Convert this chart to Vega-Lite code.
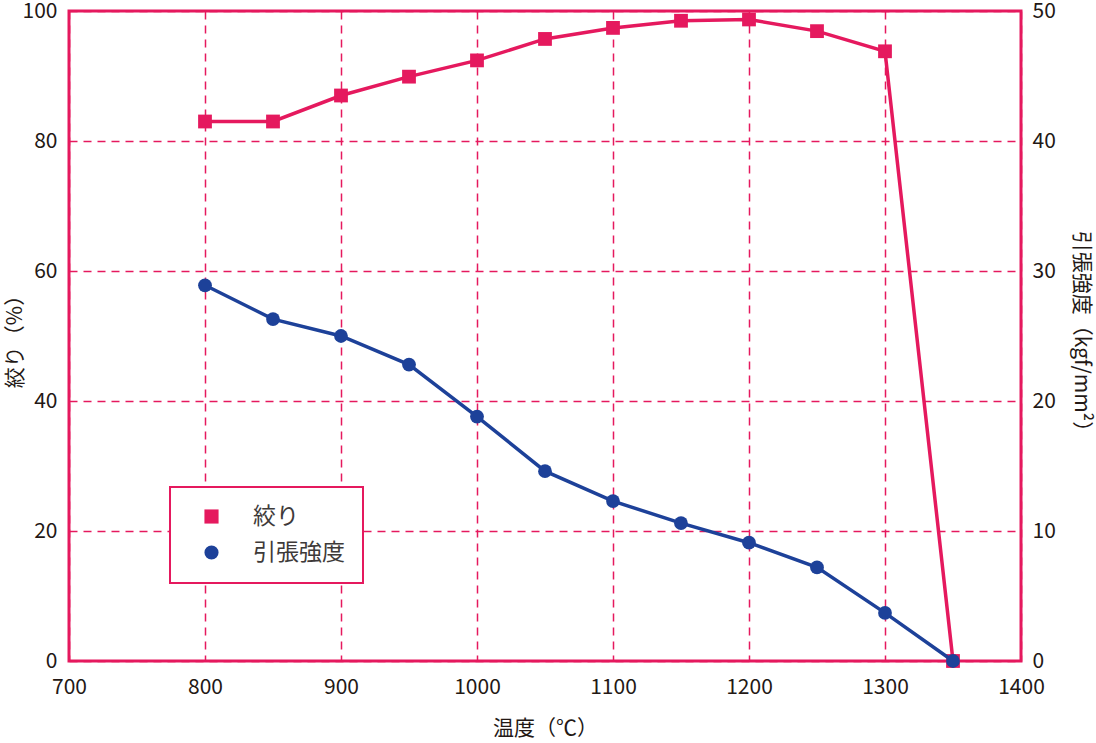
{
  "$schema": "https://vega.github.io/schema/vega-lite/v6.json",
  "width": 952,
  "height": 650,
  "autosize": {"type": "none"},
  "padding": {"left": 69, "top": 11, "right": 75, "bottom": 82},
  "config": {
    "font": "Noto Sans CJK JP",
    "view": {"stroke": "#e5195e", "strokeWidth": 3},
    "axis": {
      "domain": false,
      "ticks": false,
      "labelFontSize": 21,
      "labelColor": "#231815",
      "titleFontSize": 21,
      "titleFontWeight": "normal",
      "titleColor": "#231815",
      "gridColor": "#e5195e",
      "gridDash": [8, 6],
      "gridWidth": 1.5,
      "gridOpacity": 1
    }
  },
  "data": {
    "values": [
      {"temp": 800, "shibori": 83.0, "kyoudo": 28.9},
      {"temp": 850, "shibori": 83.0, "kyoudo": 26.3},
      {"temp": 900, "shibori": 87.0, "kyoudo": 25.0},
      {"temp": 950, "shibori": 89.9, "kyoudo": 22.8},
      {"temp": 1000, "shibori": 92.4, "kyoudo": 18.8},
      {"temp": 1050, "shibori": 95.7, "kyoudo": 14.6},
      {"temp": 1100, "shibori": 97.4, "kyoudo": 12.3},
      {"temp": 1150, "shibori": 98.5, "kyoudo": 10.6},
      {"temp": 1200, "shibori": 98.7, "kyoudo": 9.1},
      {"temp": 1250, "shibori": 96.9, "kyoudo": 7.2},
      {"temp": 1300, "shibori": 93.8, "kyoudo": 3.7},
      {"temp": 1350, "shibori": 0, "kyoudo": 0}
    ]
  },
  "encoding": {
    "x": {
      "field": "temp",
      "type": "quantitative",
      "scale": {"domain": [700, 1400], "nice": false, "zero": false},
      "axis": {
        "values": [700, 800, 900, 1000, 1100, 1200, 1300, 1400],
        "format": "d",
        "title": "温度（℃）",
        "labelPadding": 15,
        "labelFlush": false,
        "titleY": 67,
        "titleBaseline": "middle"
      }
    }
  },
  "layer": [
    {
      "encoding": {
        "y": {
          "field": "shibori",
          "type": "quantitative",
          "scale": {"domain": [0, 100], "nice": false},
          "axis": {
            "orient": "left",
            "values": [0, 20, 40, 60, 80, 100],
            "title": "絞り（%）",
            "labelPadding": 12,
            "titleX": -54,
            "titleBaseline": "middle"
          }
        }
      },
      "layer": [
        {
          "mark": {"type": "line", "color": "#e5195e", "strokeWidth": 3.5}
        },
        {
          "mark": {"type": "point", "filled": true, "size": 190, "opacity": 1},
          "encoding": {
            "color": {
              "datum": "絞り",
              "type": "nominal",
              "scale": {"domain": ["絞り", "引張強度"], "range": ["#e5195e", "#1d4199"]},
              "legend": {
                "orient": "none",
                "legendX": 101,
                "legendY": 476,
                "title": null,
                "strokeColor": "#e5195e",
                "fillColor": "white",
                "padding": 18,
                "labelFontSize": 23,
                "labelColor": "#3e3a39",
                "symbolSize": 200,
                "symbolOpacity": 1,
                "symbolStrokeWidth": 0,
                "symbolOffset": 12,
                "labelOffset": 30,
                "rowPadding": 12,
                "encode": {"legend": {"update": {"strokeWidth": {"value": 2}}}}
              }
            },
            "shape": {
              "datum": "絞り",
              "type": "nominal",
              "scale": {"domain": ["絞り", "引張強度"], "range": ["square", "circle"]}
            }
          }
        }
      ]
    },
    {
      "encoding": {
        "y": {
          "field": "kyoudo",
          "type": "quantitative",
          "scale": {"domain": [0, 50], "nice": false},
          "axis": {
            "orient": "right",
            "values": [0, 10, 20, 30, 40, 50],
            "grid": false,
            "title": "引張強度（kgf/mm²）",
            "labelPadding": 11,
            "titleX": 59,
            "titleAngle": 90,
            "titleBaseline": "middle"
          }
        }
      },
      "layer": [
        {
          "mark": {"type": "line", "color": "#1d4199", "strokeWidth": 3.5}
        },
        {
          "mark": {"type": "point", "filled": true, "size": 190, "opacity": 1},
          "encoding": {
            "color": {"datum": "引張強度", "type": "nominal"},
            "shape": {"datum": "引張強度", "type": "nominal"}
          }
        }
      ]
    }
  ],
  "resolve": {"scale": {"y": "independent"}}
}
